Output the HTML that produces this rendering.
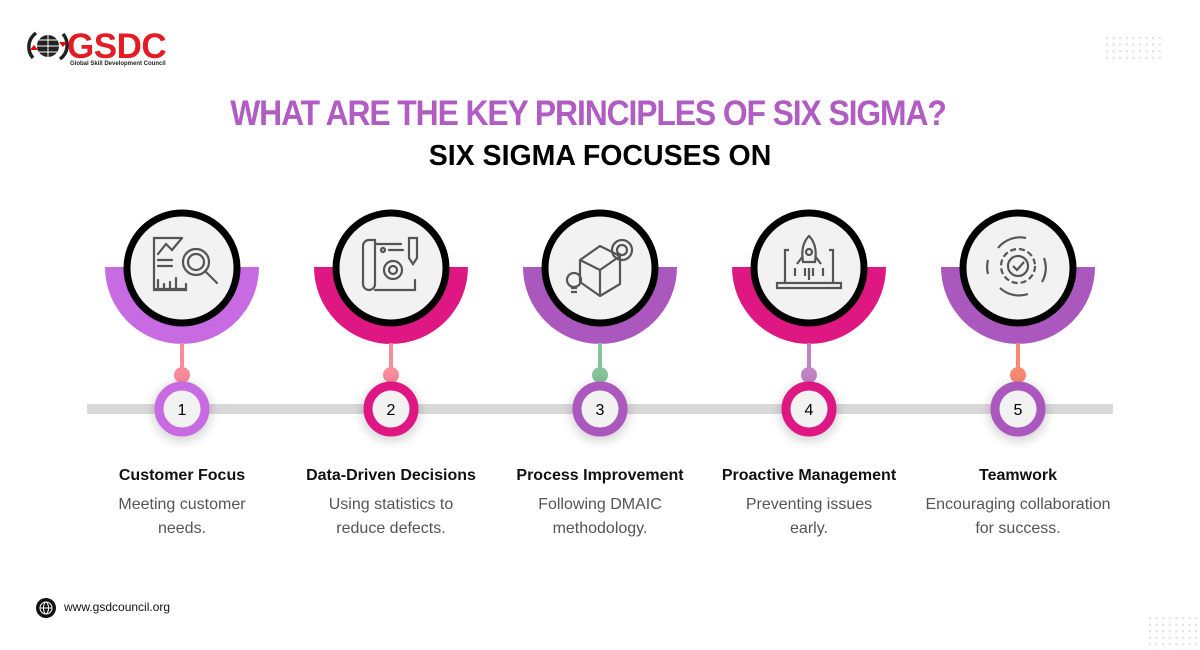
<!DOCTYPE html>
<html><head><meta charset="utf-8"><style>
body{margin:0;width:1200px;height:650px;background:#fff;overflow:hidden;position:relative;font-family:"Liberation Sans",sans-serif}
.abs{position:absolute}
.t1{left:-12px;width:1200px;top:94px;text-align:center;font-weight:bold;font-size:35px;color:#b05cc3;letter-spacing:-1.2px;transform:scaleX(0.91)}
.t2{left:0;width:1200px;top:140px;text-align:center;font-weight:bold;font-size:28.5px;color:#000;letter-spacing:0px}
.lab{width:220px;text-align:center;top:467px;font-size:16px;color:#111;font-weight:bold}
.desc{width:220px;text-align:center;top:493px;font-size:16px;color:#555;line-height:24px}
</style></head><body>
<div class="abs" style="left:26px;top:24px">
<svg width="150" height="48" viewBox="0 0 150 48">
<circle cx="22" cy="22" r="11" fill="#222"/>
<path d="M11 22h22M22 11v22M13 16h18M13 28h18" stroke="#fff" stroke-width="1"/>
<path d="M7 34a17 17 0 0 1 3-25" stroke="#222" stroke-width="3.5" fill="none"/>
<path d="M37 10a17 17 0 0 1 -3 25" stroke="#222" stroke-width="3.5" fill="none"/>
<path d="M4 26l4-5 4 5z" fill="#e00"/><path d="M33 18l4 5 4-5z" fill="#e00"/>
<text x="41" y="34" font-family="Liberation Sans" font-weight="bold" font-size="35" fill="#e51b23" letter-spacing="-0.5">GSDC</text>
<text x="44" y="41" font-family="Liberation Sans" font-weight="bold" font-size="6" fill="#222">Global Skill Development Council</text>
</svg></div>
<svg class="abs" style="left:1105px;top:36px" width="60" height="26">
<defs><pattern id="d" width="6.6" height="6.6" patternUnits="userSpaceOnUse"><rect x="1" y="1" width="2" height="2" fill="#ddd"/></pattern></defs>
<rect width="60" height="26" fill="url(#d)"/></svg>
<svg class="abs" style="left:1148px;top:616px" width="52" height="34">
<rect width="52" height="34" fill="url(#d)"/></svg>

<div class="abs t1">WHAT ARE THE KEY PRINCIPLES OF SIX SIGMA?</div>
<div class="abs t2">SIX SIGMA FOCUSES ON</div>

<svg class="abs" style="left:0;top:0" width="1200" height="650">
<defs><filter id="sh" x="-50%" y="-50%" width="200%" height="200%"><feGaussianBlur stdDeviation="5"/></filter></defs>
<rect x="87" y="404" width="1026" height="10" fill="#d9d9d9"/>
<g transform="translate(182,0)">
<path d="M-77 267a77 77 0 0 0 154 0z" fill="#c86be2"/>
<rect x="-2" y="343" width="4" height="32" fill="#f98b9b"/><circle cy="375" r="8" fill="#f98b9b"/>
<circle cy="412" r="30" fill="#000" opacity=".15" filter="url(#sh)"/>
<circle cy="409" r="23" fill="#f2f2f2" stroke="#c86be2" stroke-width="9"/>
<circle cy="268" r="55" fill="#f2f2f2" stroke="#000" stroke-width="7"/>
<text y="415" text-anchor="middle" font-size="16" font-family="Liberation Sans">1</text>
<g fill="none" stroke="#555" stroke-width="2.2" stroke-linecap="round">
<path d="M0 238h-28v52h32v-6"/><path d="M-24 254l8-10 6 6 10-12"/><path d="M-24 260h14M-24 266h14M-24 288v-8M-18 288v-4M-12 288v-6M-6 288v-10M-26 289h30"/>
<circle cx="14" cy="262" r="13"/><circle cx="14" cy="262" r="8"/><path d="M23 271l12 12"/>
</g></g>
<g transform="translate(391,0)">
<path d="M-77 267a77 77 0 0 0 154 0z" fill="#df1783"/>
<rect x="-2" y="343" width="4" height="32" fill="#f98b9b"/><circle cy="375" r="8" fill="#f98b9b"/>
<circle cy="412" r="30" fill="#000" opacity=".15" filter="url(#sh)"/>
<circle cy="409" r="23" fill="#f2f2f2" stroke="#df1783" stroke-width="9"/>
<circle cy="268" r="55" fill="#f2f2f2" stroke="#000" stroke-width="7"/>
<text y="415" text-anchor="middle" font-size="16" font-family="Liberation Sans">2</text>
<g fill="none" stroke="#555" stroke-width="2.2" stroke-linecap="round">
<path d="M-22 240a6 6 0 0 0 -6 6v38a6 6 0 0 0 12 0v-44zM-16 244h26M-16 290h40v-10"/><circle cx="-8" cy="250" r="2"/><path d="M-2 250h14"/>
<circle cx="2" cy="270" r="9"/><circle cx="2" cy="270" r="4"/><path d="M18 238v20l4 6 4-6v-20z"/>
</g></g>
<g transform="translate(600,0)">
<path d="M-77 267a77 77 0 0 0 154 0z" fill="#ab58be"/>
<rect x="-2" y="343" width="4" height="32" fill="#86c39c"/><circle cy="375" r="8" fill="#86c39c"/>
<circle cy="412" r="30" fill="#000" opacity=".15" filter="url(#sh)"/>
<circle cy="409" r="23" fill="#f2f2f2" stroke="#ab58be" stroke-width="9"/>
<circle cy="268" r="55" fill="#f2f2f2" stroke="#000" stroke-width="7"/>
<text y="415" text-anchor="middle" font-size="16" font-family="Liberation Sans">3</text>
<g fill="none" stroke="#555" stroke-width="2.2" stroke-linejoin="round">
<path d="M-20 260l20-14 20 10-20 14zM-20 260v22l20 14v-26M0 296l20-12v-28"/>
<circle cx="22" cy="250" r="10"/><circle cx="22" cy="250" r="5"/>
<circle cx="-26" cy="280" r="7"/><path d="M-29 288h6M-29 292h6"/>
</g></g>
<g transform="translate(809,0)">
<path d="M-77 267a77 77 0 0 0 154 0z" fill="#df1783"/>
<rect x="-2" y="343" width="4" height="32" fill="#c283c6"/><circle cy="375" r="8" fill="#c283c6"/>
<circle cy="412" r="30" fill="#000" opacity=".15" filter="url(#sh)"/>
<circle cy="409" r="23" fill="#f2f2f2" stroke="#df1783" stroke-width="9"/>
<circle cy="268" r="55" fill="#f2f2f2" stroke="#000" stroke-width="7"/>
<text y="415" text-anchor="middle" font-size="16" font-family="Liberation Sans">4</text>
<g fill="none" stroke="#555" stroke-width="2.2">
<path d="M-24 282v-32h4M20 250h4v32M-32 283h64v5h-64z"/><path d="M0 236c-6 6-8 14-6 26h12c2-12 0-20-6-26z"/><circle cy="252" r="3"/>
<path d="M-6 256l-6 8M6 256l6 8M-4 268v8M4 268v8M0 268v12M-14 268v8M14 268v8"/>
</g></g>
<g transform="translate(1018,0)">
<path d="M-77 267a77 77 0 0 0 154 0z" fill="#ab58be"/>
<rect x="-2" y="343" width="4" height="32" fill="#f88a72"/><circle cy="375" r="8" fill="#f88a72"/>
<circle cy="412" r="30" fill="#000" opacity=".15" filter="url(#sh)"/>
<circle cy="409" r="23" fill="#f2f2f2" stroke="#ab58be" stroke-width="9"/>
<circle cy="268" r="55" fill="#f2f2f2" stroke="#000" stroke-width="7"/>
<text y="415" text-anchor="middle" font-size="16" font-family="Liberation Sans">5</text>
<g fill="none" stroke="#555" stroke-width="2.2">
<circle cy="266" r="17" stroke-dasharray="6 3"/><circle cy="266" r="10"/><path d="M-5 266l4 4 7-8"/>
<path d="M-20 248a28 28 0 0 1 28-10M26 258a28 28 0 0 1 -2 24M10 294a28 28 0 0 1 -28-6M-30 274a28 28 0 0 1 0-14"/>
</g></g>
</svg>

<div class="abs lab" style="left:72px">Customer Focus</div>
<div class="abs desc" style="left:72px">Meeting customer<br>needs.</div>
<div class="abs lab" style="left:281px">Data-Driven Decisions</div>
<div class="abs desc" style="left:281px">Using statistics to<br>reduce defects.</div>
<div class="abs lab" style="left:490px">Process Improvement</div>
<div class="abs desc" style="left:490px">Following DMAIC<br>methodology.</div>
<div class="abs lab" style="left:699px">Proactive Management</div>
<div class="abs desc" style="left:699px">Preventing issues<br>early.</div>
<div class="abs lab" style="left:908px">Teamwork</div>
<div class="abs desc" style="left:908px">Encouraging collaboration<br>for success.</div>

<div class="abs" style="left:36px;top:598px;width:20px;height:20px;border-radius:50%;background:#111"></div>
<svg class="abs" style="left:36px;top:598px" width="20" height="20"><g fill="none" stroke="#fff" stroke-width="1"><circle cx="10" cy="10" r="6"/><ellipse cx="10" cy="10" rx="2.5" ry="6"/><path d="M4 10h12"/></g></svg>
<div class="abs" style="left:64px;top:600px;font-size:12px;color:#111">www.gsdcouncil.org</div>
</body></html>
